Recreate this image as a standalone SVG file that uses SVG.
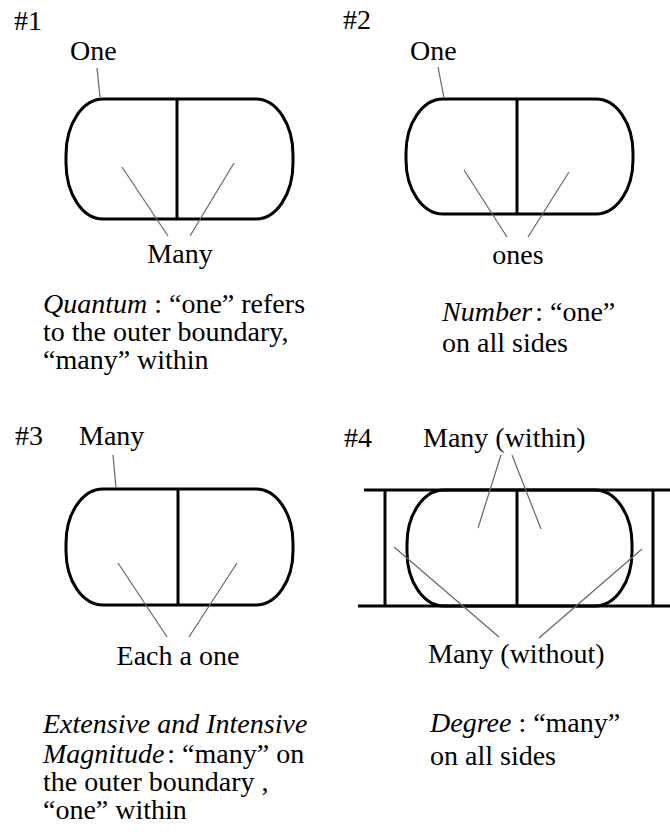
<svg xmlns="http://www.w3.org/2000/svg" width="670" height="836" viewBox="0 0 670 836" font-family="'Liberation Serif', 'DejaVu Serif', 'Times New Roman', serif">
<style>
text{font-family:'Liberation Serif','DejaVu Serif','Times New Roman',serif;font-size:28px;fill:#000}
.it{font-style:italic}
.mid{text-anchor:middle}
.shape{fill:none;stroke:#000;stroke-width:3}
.bar{stroke:#000;stroke-width:3}
.ptr{stroke:#666;stroke-width:1.2;fill:none}
</style>
<rect width="670" height="836" fill="#fff"/>
<g id="panel1">
<text x="14" y="30">#1</text>
<text x="70" y="60">One</text>
<rect class="shape" x="66" y="99" width="227" height="120" rx="37" ry="56"/>
<line class="bar" x1="177" y1="99" x2="177" y2="219"/>
<text class="mid" x="180" y="263">Many</text>
<text x="43" y="313"><tspan class="it">Quantum</tspan> : “one” refers</text>
<text x="43" y="341">to the outer boundary,</text>
<text x="43" y="369">“many” within</text>
</g>
<g id="panel2">
<text x="343" y="29">#2</text>
<text x="410" y="60">One</text>
<rect class="shape" x="406" y="99" width="227" height="115" rx="37" ry="54"/>
<line class="bar" x1="517" y1="99" x2="517" y2="214"/>
<text class="mid" x="518" y="264">ones</text>
<text x="442" y="321"><tspan class="it">Number</tspan><tspan dx="3">: “one”</tspan></text>
<text x="442" y="352">on all sides</text>
</g>
<g id="panel3">
<text x="15" y="445">#3</text>
<text x="79" y="445">Many</text>
<rect class="shape" x="66" y="489" width="227" height="116" rx="37" ry="54"/>
<line class="bar" x1="178" y1="489" x2="178" y2="605"/>
<text class="mid" x="178" y="665">Each a one</text>
<text x="43" y="733" class="it">Extensive and Intensive</text>
<text x="43" y="763"><tspan class="it">Magnitude</tspan><tspan dx="3">: “many” on</tspan></text>
<text x="43" y="791">the outer boundary ,</text>
<text x="43" y="819">“one” within</text>
</g>
<g id="panel4">
<text x="344" y="447">#4</text>
<text x="423" y="447">Many (within)</text>
<line class="bar" x1="364" y1="490" x2="670" y2="490"/>
<line class="bar" x1="358" y1="606" x2="670" y2="606"/>
<line class="bar" x1="385" y1="490" x2="385" y2="606"/>
<line class="bar" x1="653" y1="490" x2="653" y2="606"/>
<rect class="shape" x="407" y="490" width="225" height="116" rx="37" ry="54"/>
<line class="bar" x1="517" y1="490" x2="517" y2="606"/>
<text x="428" y="663">Many (without)</text>
<text x="430" y="732"><tspan class="it">Degree</tspan> : “many”</text>
<text x="430" y="765">on all sides</text>
</g>
<g id="connectors">
<line class="ptr" x1="97" y1="68" x2="100" y2="97"/>
<line class="ptr" x1="122" y1="167" x2="168" y2="236"/>
<line class="ptr" x1="234" y1="163" x2="190" y2="236"/>
<line class="ptr" x1="438" y1="67" x2="444" y2="98"/>
<line class="ptr" x1="464" y1="170" x2="507" y2="237"/>
<line class="ptr" x1="569" y1="172" x2="528" y2="237"/>
<line class="ptr" x1="113" y1="455" x2="116" y2="488"/>
<line class="ptr" x1="118" y1="563" x2="167" y2="637"/>
<line class="ptr" x1="237" y1="563" x2="189" y2="637"/>
<line class="ptr" x1="501" y1="455" x2="478" y2="528"/>
<line class="ptr" x1="512" y1="455" x2="541" y2="529"/>
<line class="ptr" x1="394" y1="547" x2="499" y2="637"/>
<line class="ptr" x1="642" y1="549" x2="539" y2="638"/>
</g>
</svg>
